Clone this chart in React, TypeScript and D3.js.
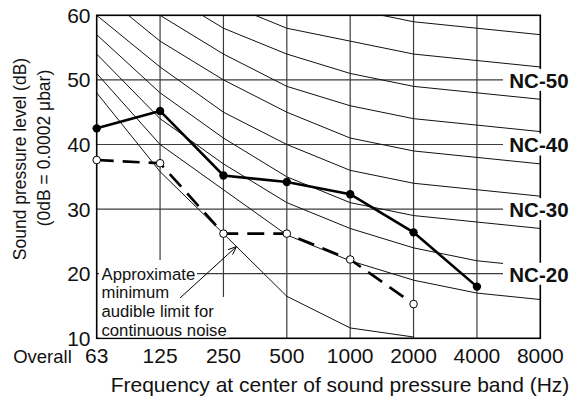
import React from "react";
import * as d3 from "d3";

const freqs = ["63", "125", "250", "500", "1000", "2000", "4000", "8000"];
const dbTicks = [10, 20, 30, 40, 50, 60];
const gridDb = [20, 30, 40, 50];

const nc20 = [51, 40, 33, 26, 22, 19, 17, 16];
const nc25 = [54, 44, 37, 31, 27, 24, 22, 21];
const nc30 = [57, 48, 41, 35, 31, 29, 28, 27];
const nc35 = [60, 52, 45, 40, 36, 34, 33, 32];
const nc40 = [64, 56, 50, 45, 41, 39, 38, 37];
const nc45 = [67, 60, 54, 49, 46, 44, 43, 42];
const nc50 = [71, 64, 58, 54, 51, 49, 48, 47];
const nc55 = [74, 67, 62, 58, 56, 54, 53, 52];
const nc60 = [77, 71, 67, 63, 61, 59, 58, 57];
const ncCurves = [nc20, nc25, nc30, nc35, nc40, nc45, nc50, nc55, nc60];

const threshold = [48, 35.8, 26.2, 16.5, 11.6, 10.2];
const measured = [42.5, 45.2, 35.2, 34.2, 32.3, 26.4, 18.0];
const dashedSeries = [37.6, 37.1, 26.2, 26.2, 22.2, 15.3];

const ncLabels = ["NC-50", "NC-40", "NC-30", "NC-20"];
const ncLabelLevels = [50, 40, 30, 20];
const noteLines = ["Approximate", "minimum", "audible limit for", "continuous noise"];
const noteBaselines = [280, 297.5, 316.5, 335.5];

const W = 581;
const H = 399;
const L = 96.7, R = 540.3, T = 15.3, B = 338.3;

export default function App() {
  const x = d3.scalePoint<string>().domain(freqs).range([L, R]);
  const y = d3.scaleLinear().domain([10, 60]).range([B, T]);
  const line = d3
    .line<number>()
    .x((_, i) => x(freqs[i]) as number)
    .y((d) => y(d));

  const font = "'Liberation Sans', Arial, Helvetica, sans-serif";

  // arrow
  const ax1 = 180, ay1 = 298, ax2 = 236.5, ay2 = 246.5;
  const ang = Math.atan2(ay2 - ay1, ax2 - ax1);
  const hl = 9, ha = 0.38;
  const h1 = [ax2 - hl * Math.cos(ang - ha), ay2 - hl * Math.sin(ang - ha)];
  const h2 = [ax2 - hl * Math.cos(ang + ha), ay2 - hl * Math.sin(ang + ha)];

  return (
    <svg
      width={W}
      height={H}
      style={{ position: "absolute", left: 0, top: 0, background: "#fff" }}
      fontFamily={font}
    >
      <defs>
        <clipPath id="plot">
          <rect x={L} y={T} width={R - L} height={B - T} />
        </clipPath>
      </defs>
      <rect x={0} y={0} width={W} height={H} fill="#fff" />

      {/* grid */}
      {freqs.slice(1, -1).map((f) => (
        <line key={f} x1={x(f)} x2={x(f)} y1={T} y2={B} stroke="#3c3c3c" strokeWidth={1.2} />
      ))}
      {gridDb.map((d) => (
        <line key={d} x1={L} x2={R} y1={y(d)} y2={y(d)} stroke="#3c3c3c" strokeWidth={1.2} />
      ))}

      {/* NC curves and threshold */}
      <g clipPath="url(#plot)" fill="none" stroke="#111" strokeWidth={1}>
        {ncCurves.map((c, i) => (
          <path key={i} d={line(c) as string} />
        ))}
        <path d={line(threshold) as string} />
      </g>

      {/* frame */}
      <rect x={L} y={T} width={R - L} height={B - T} fill="none" stroke="#000" strokeWidth={1.6} />

      {/* data lines */}
      <path d={line(dashedSeries) as string} fill="none" stroke="#000" strokeWidth={2.6} strokeDasharray="17,9" />
      <path d={line(measured) as string} fill="none" stroke="#000" strokeWidth={2.6} />
      {measured.map((d, i) => (
        <circle key={"m" + i} cx={x(freqs[i])} cy={y(d)} r={4.2} fill="#000" />
      ))}
      {dashedSeries.map((d, i) => (
        <circle key={"d" + i} cx={x(freqs[i])} cy={y(d)} r={3.8} fill="#fff" stroke="#000" strokeWidth={1} />
      ))}

      {/* annotation */}
      <rect x={99} y={260} width={98} height={23} fill="#fff" />
      <rect x={99} y={283} width={72} height={15} fill="#fff" />
      <rect x={99} y={297} width={130} height={40.5} fill="#fff" />
      {noteLines.map((t, i) => (
        <text key={t} x={101.5} y={noteBaselines[i]} fontSize={16.7} fill="#111">
          {t}
        </text>
      ))}
      <line x1={ax1} y1={ay1} x2={ax2} y2={ay2} stroke="#000" strokeWidth={1} />
      <polyline
        points={`${h1[0]},${h1[1]} ${ax2},${ay2} ${h2[0]},${h2[1]}`}
        fill="none"
        stroke="#000"
        strokeWidth={1}
      />

      {/* NC labels */}
      {ncLabels.map((t, i) => (
        <g key={t}>
          <rect x={503} y={y(ncLabelLevels[i]) - 11} width={72} height={22} fill="#fff" />
          <text x={509.3} y={y(ncLabelLevels[i]) + 7.8} fontSize={20.5} fontWeight="bold" fill="#111">
            {t}
          </text>
        </g>
      ))}

      {/* y ticks */}
      {dbTicks.map((d) => (
        <text key={d} x={90.5} y={y(d) + 7.5} fontSize={21} textAnchor="end" fill="#111">
          {d}
        </text>
      ))}

      {/* x ticks */}
      {freqs.map((f) => (
        <text key={f} x={x(f)} y={363.3} fontSize={21} textAnchor="middle" fill="#111">
          {f}
        </text>
      ))}
      <text x={42.5} y={363.3} fontSize={18.5} textAnchor="middle" fill="#111">
        Overall
      </text>

      {/* axis titles */}
      <text x={340} y={392} fontSize={21} textAnchor="middle" fill="#111">
        Frequency at center of sound pressure band (Hz)
      </text>
      <text transform={`translate(26,159) rotate(-90)`} fontSize={17.5} textAnchor="middle" fill="#111">
        Sound pressure level (dB)
      </text>
      <text transform={`translate(49.5,148) rotate(-90)`} fontSize={17.5} textAnchor="middle" fill="#111">
        (0dB = 0.0002 μbar)
      </text>
    </svg>
  );
}
